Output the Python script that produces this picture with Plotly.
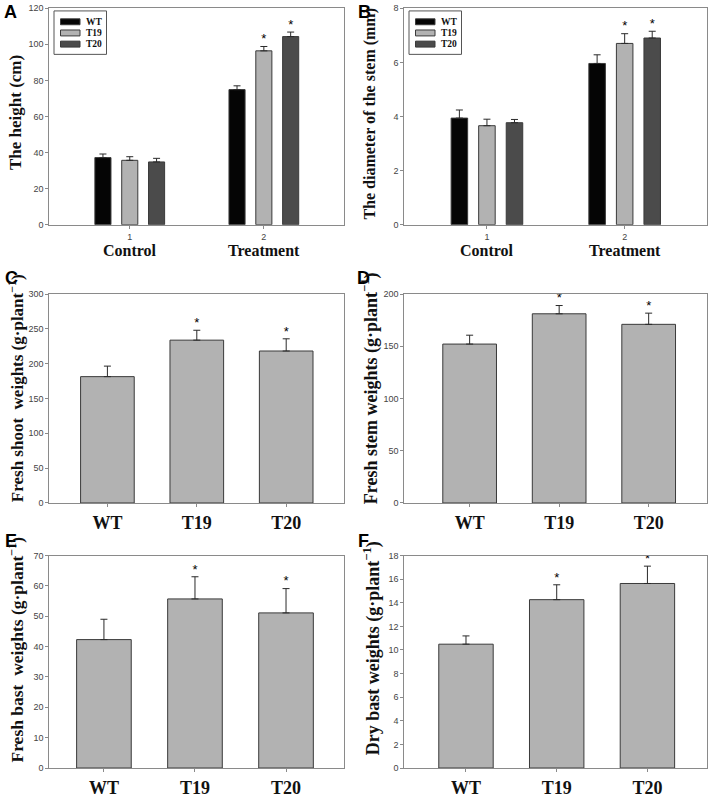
import plotly.graph_objects as go

W, H = 709, 798

# ---------------- data ----------------
genotypes = ["WT", "T19", "T20"]
conditions = ["Control", "Treatment"]
cond_pos = [1, 2]

# Panel A: plant height (cm)
height_wt = [37.2, 74.9]
height_t19 = [35.7, 96.4]
height_t20 = [34.8, 104.3]
height_wt_err = [2.0, 2.1]
height_t19_err = [2.0, 2.4]
height_t20_err = [2.0, 2.5]
height_sig = [False, True]

# Panel B: stem diameter (mm)
diam_wt = [3.94, 5.96]
diam_t19 = [3.66, 6.70]
diam_t20 = [3.77, 6.90]
diam_wt_err = [0.30, 0.32]
diam_t19_err = [0.24, 0.36]
diam_t20_err = [0.12, 0.25]
diam_sig = [False, True]

# Panels C-F
shoot_mean = [181.4, 233.8, 218.2]
shoot_err = [15.1, 14.2, 17.5]
stem_mean = [152.1, 181.1, 171.0]
stem_err = [8.5, 7.9, 10.7]
fbast_mean = [42.3, 55.7, 51.1]
fbast_err = [6.7, 7.3, 8.0]
dbast_mean = [10.49, 14.26, 15.63]
dbast_err = [0.70, 1.26, 1.47]
single_sig = [False, True, True]

# ---------------- styling ----------------
C_WT, C_T19, C_T20 = "#050505", "#b2b2b2", "#4b4b4b"
OUT = "#3a3a3a"
AX = "#8a8a8a"
ERR = "#2a2a2a"
TICKF = dict(family="Liberation Sans, Arial", size=9, color="#444")
STARF = dict(family="Liberation Sans, Arial", size=13, color="#000")
SERIF_B = "Liberation Serif, Times New Roman"


def px(x):
    return x / W


def py(y):
    return 1 - y / H


fig = go.Figure()

# axis boxes (pixel coordinates of each frame)
left_x = [49.3, 344.3]
right_x = [404.3, 707.3]
rows_y = [(3.3, 222.5), (292.7, 504.3), (557.5, 772.7)]

panels = [
    (1, left_x, 0), (2, right_x, 0),
    (3, left_x, 1), (4, right_x, 1),
    (5, left_x, 2), (6, right_x, 2),
]
yranges = {1: ([0, 120], 20), 2: ([0, 8], 2), 3: ([0, 300], 50),
           4: ([0, 200], 50), 5: ([0, 70], 10), 6: ([0, 18], 2)}
xranges = {1: [0.4, 2.6], 2: [0.4, 2.6], 3: [-0.65, 2.65],
           4: [-0.73, 2.655], 5: [-0.6, 2.64], 6: [-0.68, 2.66]}

layout_axes = {}
for idx, xs, r in panels:
    ys = rows_y[r]
    xn = "xaxis" if idx == 1 else f"xaxis{idx}"
    yn = "yaxis" if idx == 1 else f"yaxis{idx}"
    xa = dict(domain=[px(xs[0]), px(xs[1])], range=xranges[idx],
              showline=True, mirror=True, linecolor=AX, linewidth=1,
              ticks="outside", ticklen=3, tickcolor=AX, showgrid=False,
              zeroline=False, anchor="y" if idx == 1 else f"y{idx}")
    if idx <= 2:
        xa.update(tickmode="array", tickvals=cond_pos, ticktext=["1", "2"],
                  tickfont=TICKF)
    else:
        xa.update(type="category", tickfont=dict(family=SERIF_B, size=18,
                                                 color="#111", weight="bold"))
    ya = dict(domain=[py(ys[1]), py(ys[0])], range=yranges[idx][0],
              dtick=yranges[idx][1], tick0=0,
              showline=True, mirror=True, linecolor=AX, linewidth=1,
              ticks="outside", ticklen=3, tickcolor=AX, showgrid=False,
              zeroline=False, tickfont=TICKF,
              anchor="x" if idx == 1 else f"x{idx}")
    layout_axes[xn] = xa
    layout_axes[yn] = ya

# ---------- grouped panels A and B ----------
bar_w = 0.12
shift = 0.2
groups = [
    ("WT", C_WT, -shift), ("T19", C_T19, 0.0), ("T20", C_T20, shift)
]
AB = [
    (1, [height_wt, height_t19, height_t20],
     [height_wt_err, height_t19_err, height_t20_err], height_sig),
    (2, [diam_wt, diam_t19, diam_t20],
     [diam_wt_err, diam_t19_err, diam_t20_err], diam_sig),
]
for idx, means, errs, sig in AB:
    xr = "x" if idx == 1 else f"x{idx}"
    yr = "y" if idx == 1 else f"y{idx}"
    for gi, (name, col, sh) in enumerate(groups):
        fig.add_trace(go.Bar(
            x=cond_pos, y=means[gi], width=bar_w, offset=sh - bar_w / 2,
            name=name, marker=dict(color=col, line=dict(color=OUT, width=1)),
            error_y=dict(type="data", symmetric=False, array=errs[gi],
                         arrayminus=[0] * len(errs[gi]), color=ERR,
                         thickness=1, width=3.5),
            xaxis=xr, yaxis=yr, showlegend=False,
        ))
        if gi > 0:
            sx = [p + sh for p, s in zip(cond_pos, sig) if s]
            sy = [m + e for m, e, s in zip(means[gi], errs[gi], sig) if s]
            fig.add_trace(go.Scatter(
                x=sx, y=sy, mode="text", text=["*"] * len(sx),
                textposition="top center", textfont=STARF,
                xaxis=xr, yaxis=yr, showlegend=False, hoverinfo="skip"))

# ---------- single-series panels C-F ----------
singles = [
    (3, shoot_mean, shoot_err), (4, stem_mean, stem_err),
    (5, fbast_mean, fbast_err), (6, dbast_mean, dbast_err),
]
for idx, m, e in singles:
    xr, yr = f"x{idx}", f"y{idx}"
    fig.add_trace(go.Bar(
        x=genotypes, y=m, width=0.6,
        marker=dict(color=C_T19, line=dict(color=OUT, width=1)),
        error_y=dict(type="data", symmetric=False, array=e,
                     arrayminus=[0] * len(e), color=ERR, thickness=1,
                     width=3.5),
        xaxis=xr, yaxis=yr, showlegend=False))
    sx = [g for g, s in zip(genotypes, single_sig) if s]
    sy = [a + b for a, b, s in zip(m, e, single_sig) if s]
    fig.add_trace(go.Scatter(
        x=sx, y=sy, mode="text", text=["*"] * len(sx),
        textposition="top center", textfont=STARF,
        xaxis=xr, yaxis=yr, showlegend=False, hoverinfo="skip"))

# ---------- annotations ----------
ann = []
shapes = []
letters = [("A", 10, 7), ("B", 364, 7), ("C", 11, 276), ("D", 363, 276),
           ("E", 11, 543), ("F", 363, 543)]
for t, x, y in letters:
    ann.append(dict(text=t, x=px(x), y=py(y), xref="paper", yref="paper",
                    showarrow=False, xanchor="center", yanchor="middle",
                    font=dict(family="Liberation Sans, Arial", size=18,
                              color="#000", weight="bold")))

ytitles = [
    ("The height (cm)", 15.7, 108.7, 17),
    ("The diameter of the stem (mm)", 370, 110, 16),
    ("Fresh shoot  weights (g·plant<sup>−1</sup>)", 16.7, 388.3, 17),
    ("Fresh stem weights (g·plant<sup>−1</sup>)", 370.7, 388.3, 18),
    ("Fresh bast  weights (g·plant<sup>−1</sup>)", 15.7, 653, 17.5),
    ("Dry bast weights (g·plant<sup>−1</sup>)", 371.7, 651.7, 18),
]
for t, x, y, s in ytitles:
    ann.append(dict(text=t, x=px(x), y=py(y), xref="paper", yref="paper",
                    showarrow=False, textangle=-90, xanchor="center",
                    yanchor="middle",
                    font=dict(family=SERIF_B, size=s, color="#111",
                              weight="bold")))

for xr in ["x", "x2"]:
    for c, p in zip(conditions, cond_pos):
        ann.append(dict(text=c, x=p, y=py(249), xref=xr, yref="paper",
                        showarrow=False, xanchor="center", yanchor="middle",
                        font=dict(family=SERIF_B, size=16, color="#111",
                                  weight="bold")))

# ---------- legend boxes (drawn inside panels A and B) ----------
for ax_left in (left_x[0], right_x[0]):
    bx0 = ax_left + 4.7
    shapes.append(dict(type="rect", xref="paper", yref="paper",
                       x0=px(bx0), x1=px(bx0 + 52.5), y0=py(50), y1=py(6),
                       line=dict(color="#555", width=1), fillcolor="white",
                       layer="above"))
    for gi, (name, col, sh) in enumerate(groups):
        cy = 17 + gi * 11.3
        shapes.append(dict(type="rect", xref="paper", yref="paper",
                           x0=px(bx0 + 6.5), x1=px(bx0 + 26),
                           y0=py(cy + 3), y1=py(cy - 3),
                           line=dict(color=OUT, width=1), fillcolor=col,
                           layer="above"))
        ann.append(dict(text=name, x=px(bx0 + 29.5), y=py(cy), xref="paper",
                        yref="paper", showarrow=False, xanchor="left",
                        yanchor="middle",
                        font=dict(family=SERIF_B, size=9.5, color="#111",
                                  weight="bold")))

fig.update_layout(
    width=W, height=H, margin=dict(l=0, r=0, t=0, b=0),
    paper_bgcolor="white", plot_bgcolor="white",
    barmode="overlay", annotations=ann, shapes=shapes, showlegend=False,
    hovermode=False,
    **layout_axes,
)

fig.write_html("out.html", config={"displayModeBar": False},
               post_script="document.body.style.margin='0px';")
